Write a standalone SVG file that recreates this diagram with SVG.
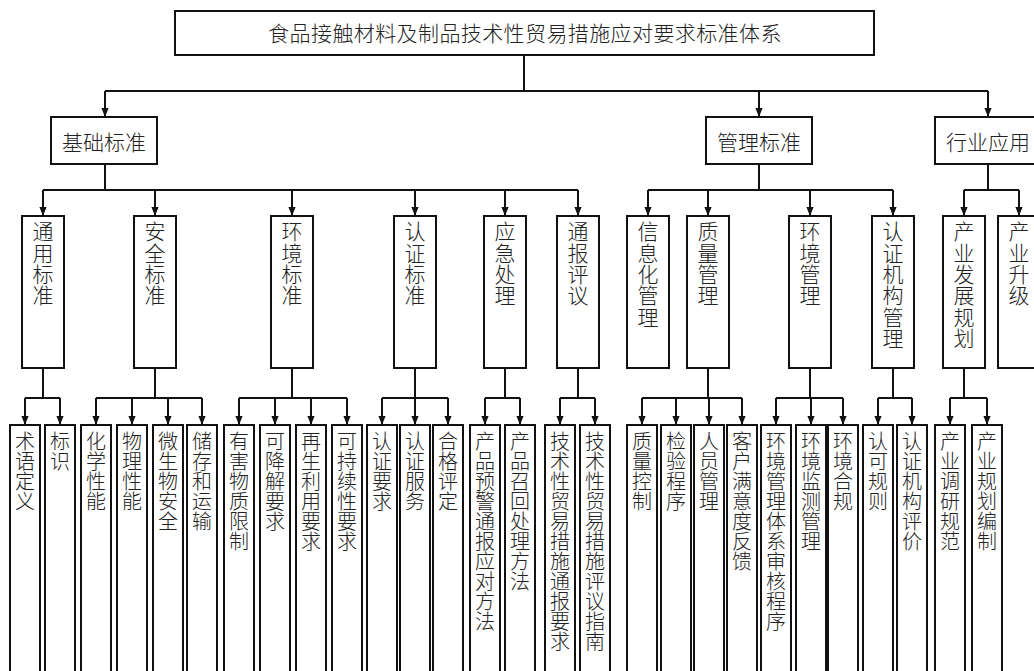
<svg xmlns="http://www.w3.org/2000/svg" width="1034" height="671" viewBox="0 0 1034 671">
<style>
.box{fill:#fff;stroke:#111;stroke-width:2}
.ln{fill:none;stroke:#111;stroke-width:2}
.ar{fill:none;stroke:#111;stroke-width:2;marker-end:url(#ah)}
text{font-family:"Noto Sans CJK SC","Noto Sans CJK JP",sans-serif;fill:#222;font-weight:300}
.t1{font-size:21px;text-anchor:middle}
.t2{font-size:21px;writing-mode:vertical-rl;text-anchor:start;letter-spacing:0.3px}
.t3{font-size:20px;writing-mode:vertical-rl;text-anchor:start}
</style>
<defs>
<marker id="ah" viewBox="0 0 10 8" markerWidth="9" markerHeight="8" refX="10" refY="4" orient="auto" markerUnits="userSpaceOnUse">
<path d="M0,0 L10,4 L0,8 z" fill="#111"/>
</marker>
</defs>
<rect width="1034" height="671" fill="#fff"/>

<g id="connectors">
<path class="ln" d="M524,55 V91 M105,91 H988"/>
<path class="ar" d="M105,91 V117"/>
<path class="ar" d="M759,91 V117"/>
<path class="ar" d="M988,91 V117"/>
<path class="ln" d="M105,164 V190 M43,190 H578"/>
<path class="ln" d="M759,164 V190 M648,190 H893"/>
<path class="ln" d="M988,164 V190 M964,190 H1019"/>
<path class="ar" d="M43,190 V216"/>
<path class="ar" d="M155,190 V216"/>
<path class="ar" d="M292,190 V216"/>
<path class="ar" d="M415,190 V216"/>
<path class="ar" d="M505,190 V216"/>
<path class="ar" d="M578,190 V216"/>
<path class="ar" d="M648,190 V216"/>
<path class="ar" d="M708,190 V216"/>
<path class="ar" d="M810,190 V216"/>
<path class="ar" d="M893,190 V216"/>
<path class="ar" d="M964,190 V216"/>
<path class="ar" d="M1019,190 V216"/>
<path class="ln" d="M43,368 V398 M25,398 H60"/>
<path class="ln" d="M155,368 V398 M96,398 H202"/>
<path class="ln" d="M292,368 V398 M239,398 H347"/>
<path class="ln" d="M415,368 V398 M382,398 H448"/>
<path class="ln" d="M505,368 V398 M485,398 H520"/>
<path class="ln" d="M578,368 V398 M560,398 H595"/>
<path class="ln" d="M708,368 V398 M642,398 H742"/>
<path class="ln" d="M810,368 V398 M776,398 H843"/>
<path class="ln" d="M893,368 V398 M878,398 H912"/>
<path class="ln" d="M964,368 V398 M950,398 H987"/>
<path class="ar" d="M25,398 V425"/>
<path class="ar" d="M60,398 V425"/>
<path class="ar" d="M96,398 V425"/>
<path class="ar" d="M132,398 V425"/>
<path class="ar" d="M168,398 V425"/>
<path class="ar" d="M202,398 V425"/>
<path class="ar" d="M239,398 V425"/>
<path class="ar" d="M275,398 V425"/>
<path class="ar" d="M311,398 V425"/>
<path class="ar" d="M347,398 V425"/>
<path class="ar" d="M382,398 V425"/>
<path class="ar" d="M415,398 V425"/>
<path class="ar" d="M448,398 V425"/>
<path class="ar" d="M485,398 V425"/>
<path class="ar" d="M520,398 V425"/>
<path class="ar" d="M560,398 V425"/>
<path class="ar" d="M595,398 V425"/>
<path class="ar" d="M642,398 V425"/>
<path class="ar" d="M676,398 V425"/>
<path class="ar" d="M709,398 V425"/>
<path class="ar" d="M742,398 V425"/>
<path class="ar" d="M776,398 V425"/>
<path class="ar" d="M811,398 V425"/>
<path class="ar" d="M843,398 V425"/>
<path class="ar" d="M878,398 V425"/>
<path class="ar" d="M912,398 V425"/>
<path class="ar" d="M950,398 V425"/>
<path class="ar" d="M987,398 V425"/>
</g>

<g id="root"><rect class="box" x="175" y="11" width="699" height="44"/><text class="t1" x="525" y="41" letter-spacing="0.4">食品接触材料及制品技术性贸易措施应对要求标准体系</text></g>

<g id="n-jichu"><rect class="box" x="51" y="117" width="106" height="47"/><text class="t1" x="104" y="150">基础标准</text></g>
<g id="n-guanli"><rect class="box" x="706" y="117" width="106" height="47"/><text class="t1" x="759" y="150">管理标准</text></g>
<g id="n-hangye"><rect class="box" x="935" y="117" width="106" height="47"/><text class="t1" x="988" y="150">行业应用</text></g>

<g id="n-tongyong"><rect class="box" x="22" y="216" width="42" height="152"/><text class="t2" x="43" y="221">通用标准</text></g>
<g id="n-anquan"><rect class="box" x="134" y="216" width="42" height="152"/><text class="t2" x="155" y="221">安全标准</text></g>
<g id="n-huanjing"><rect class="box" x="271" y="216" width="42" height="152"/><text class="t2" x="292" y="221">环境标准</text></g>
<g id="n-renzheng"><rect class="box" x="394" y="216" width="42" height="152"/><text class="t2" x="415" y="221">认证标准</text></g>
<g id="n-yingji"><rect class="box" x="484" y="216" width="42" height="152"/><text class="t2" x="505" y="221">应急处理</text></g>
<g id="n-tongbao"><rect class="box" x="557" y="216" width="42" height="152"/><text class="t2" x="578" y="221">通报评议</text></g>
<g id="n-xinxihua"><rect class="box" x="627" y="216" width="42" height="152"/><text class="t2" x="648" y="221">信息化管理</text></g>
<g id="n-zhiliang"><rect class="box" x="687" y="216" width="42" height="152"/><text class="t2" x="708" y="221">质量管理</text></g>
<g id="n-huanjingguanli"><rect class="box" x="789" y="216" width="42" height="152"/><text class="t2" x="810" y="221">环境管理</text></g>
<g id="n-renzhengjigou"><rect class="box" x="872" y="216" width="42" height="152"/><text class="t2" x="893" y="221">认证机构管理</text></g>
<g id="n-chanyefazhan"><rect class="box" x="943" y="216" width="42" height="152"/><text class="t2" x="964" y="221">产业发展规划</text></g>
<g id="n-chanyeshengji"><rect class="box" x="998" y="216" width="42" height="152"/><text class="t2" x="1019" y="221">产业升级</text></g>

<g id="l-shuyu"><rect class="box" x="10" y="425" width="30" height="260"/><text class="t3" x="25" y="431">术语定义</text></g>
<g id="l-biaoshi"><rect class="box" x="45" y="425" width="30" height="260"/><text class="t3" x="60" y="431">标识</text></g>
<g id="l-huaxue"><rect class="box" x="81" y="425" width="30" height="260"/><text class="t3" x="96" y="431">化学性能</text></g>
<g id="l-wuli"><rect class="box" x="117" y="425" width="30" height="260"/><text class="t3" x="132" y="431">物理性能</text></g>
<g id="l-weishengwu"><rect class="box" x="153" y="425" width="30" height="260"/><text class="t3" x="168" y="431">微生物安全</text></g>
<g id="l-chucun"><rect class="box" x="187" y="425" width="30" height="260"/><text class="t3" x="202" y="431">储存和运输</text></g>
<g id="l-youhai"><rect class="box" x="224" y="425" width="30" height="260"/><text class="t3" x="239" y="431">有害物质限制</text></g>
<g id="l-kejiangjie"><rect class="box" x="260" y="425" width="30" height="260"/><text class="t3" x="275" y="431">可降解要求</text></g>
<g id="l-zaisheng"><rect class="box" x="296" y="425" width="30" height="260"/><text class="t3" x="311" y="431">再生利用要求</text></g>
<g id="l-kechixu"><rect class="box" x="332" y="425" width="30" height="260"/><text class="t3" x="347" y="431">可持续性要求</text></g>
<g id="l-renzhengyaoqiu"><rect class="box" x="367" y="425" width="30" height="260"/><text class="t3" x="382" y="431">认证要求</text></g>
<g id="l-renzhengfuwu"><rect class="box" x="400" y="425" width="30" height="260"/><text class="t3" x="415" y="431">认证服务</text></g>
<g id="l-hege"><rect class="box" x="433" y="425" width="30" height="260"/><text class="t3" x="448" y="431">合格评定</text></g>
<g id="l-yujing"><rect class="box" x="470" y="425" width="30" height="260"/><text class="t3" x="485" y="431">产品预警通报应对方法</text></g>
<g id="l-zhaohui"><rect class="box" x="505" y="425" width="30" height="260"/><text class="t3" x="520" y="431">产品召回处理方法</text></g>
<g id="l-tongbaoyaoqiu"><rect class="box" x="545" y="425" width="30" height="260"/><text class="t3" x="560" y="431">技术性贸易措施通报要求</text></g>
<g id="l-pingyi"><rect class="box" x="580" y="425" width="30" height="260"/><text class="t3" x="595" y="431">技术性贸易措施评议指南</text></g>
<g id="l-zhiliangkongzhi"><rect class="box" x="627" y="425" width="30" height="260"/><text class="t3" x="642" y="431">质量控制</text></g>
<g id="l-jianyan"><rect class="box" x="661" y="425" width="30" height="260"/><text class="t3" x="676" y="431">检验程序</text></g>
<g id="l-renyuan"><rect class="box" x="694" y="425" width="30" height="260"/><text class="t3" x="709" y="431">人员管理</text></g>
<g id="l-kehu"><rect class="box" x="727" y="425" width="30" height="260"/><text class="t3" x="742" y="431">客户满意度反馈</text></g>
<g id="l-shenhe"><rect class="box" x="761" y="425" width="30" height="260"/><text class="t3" x="776" y="431">环境管理体系审核程序</text></g>
<g id="l-jiance"><rect class="box" x="796" y="425" width="30" height="260"/><text class="t3" x="811" y="431">环境监测管理</text></g>
<g id="l-hegui"><rect class="box" x="828" y="425" width="30" height="260"/><text class="t3" x="843" y="431">环境合规</text></g>
<g id="l-renke"><rect class="box" x="863" y="425" width="30" height="260"/><text class="t3" x="878" y="431">认可规则</text></g>
<g id="l-jigoupingjia"><rect class="box" x="897" y="425" width="30" height="260"/><text class="t3" x="912" y="431">认证机构评价</text></g>
<g id="l-diaoyan"><rect class="box" x="935" y="425" width="30" height="260"/><text class="t3" x="950" y="431">产业调研规范</text></g>
<g id="l-bianzhi"><rect class="box" x="972" y="425" width="30" height="260"/><text class="t3" x="987" y="431">产业规划编制</text></g>
</svg>
